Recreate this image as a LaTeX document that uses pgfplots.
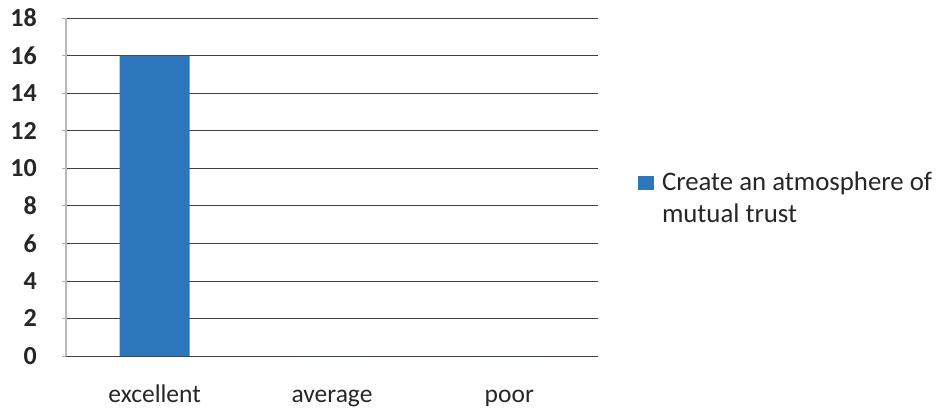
\documentclass[border=0pt]{standalone}
\usepackage{pgfplots}
\pgfplotsset{compat=1.18}
\usetikzlibrary{calc}
\usepackage{fontspec}
\setmainfont{Carlito}
\definecolor{barblue}{RGB}{44,119,187}
\begin{document}
\begin{tikzpicture}[x=1pt,y=1pt]
\begin{axis}[
  scale only axis, width=532pt, height=338pt,
  xmin=-0.5, xmax=2.5, ymin=0, ymax=18,
  ybar, bar width=70pt,
  xtick={0,1,2}, xticklabels={excellent,average,poor},
  minor xtick={0.5,1.5,2.5},
  ytick={0,2,...,18},
  ymajorgrids, grid style={black!75, line width=0.7pt},
  axis x line*=bottom, axis y line*=left,
  x axis line style={black!75, line width=0.7pt},
  y axis line style={gray!55, line width=1.2pt},
  tick align=outside,
  major tick length=4pt, minor tick length=5pt,
  xtick style={draw=none},
  minor x tick style={black!70, line width=0.7pt},
  ytick style={gray!60, line width=0.6pt},
  /pgf/number format/assume math mode=true,
  yticklabel style={font=\fontsize{26}{30}\selectfont\bfseries, text=black!85, anchor=east, inner sep=0pt, xshift=-25pt},
  xticklabel style={font=\fontsize{25.5}{30}\selectfont, text=black!85, anchor=base, inner sep=0pt, yshift=-42pt},
  legend style={draw=none, fill=none, inner sep=0pt, outer sep=0pt,
    at={(axis description cs:1.0752,0.547)}, anchor=north west,
    font=\fontsize{26.8}{31}\selectfont, text=black!85,
    nodes={inner sep=0pt, text height=19pt, text depth=6pt},
    cells={anchor=west}, row sep=7pt, column sep=8pt},
]
\addplot[fill=barblue, draw=none,
  legend image code/.code={\fill[barblue] (0pt,-6pt) rectangle (16pt,8pt);}]
  coordinates {(0,16) (1,0) (2,0)};
\addlegendentry{Create an atmosphere of}
\addlegendimage{empty legend}
\addlegendentry{mutual trust}
\coordinate (pll) at (rel axis cs:0,0);
\end{axis}
\pgfresetboundingbox
\path[use as bounding box] ($(pll)+(-66,-51)$) rectangle ($(pll)+(870,356)$);
\end{tikzpicture}
\end{document}
